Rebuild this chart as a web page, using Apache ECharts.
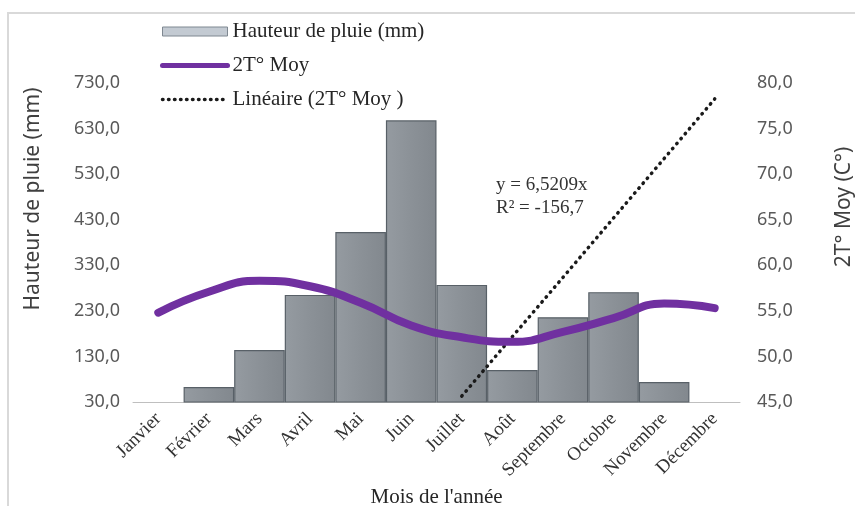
<!DOCTYPE html>
<html>
<head>
<meta charset="utf-8">
<script src="https://cdn.jsdelivr.net/npm/echarts@6/dist/echarts.min.js"></script>
<style>html,body{margin:0;padding:0;background:#fff;}#c{width:855px;height:506px;}</style>
</head>
<body>
<div id="c"></div>
<script>
var months = ['Janvier','Février','Mars','Avril','Mai','Juin','Juillet','Août','Septembre','Octobre','Novembre','Décembre'];
var pluie = [null, 63, 144, 265, 403, 648, 287, 100, 216, 271, 74, null];
var tMoy = [54.8, 57.1, 58.3, 57.7, 55.9, 53.4, 52.1, 51.6, 52.7, 54.2, 55.8, 55.3];
var lineaire = [null, null, null, null, null, null, 45.65, 52.17, 58.67, 65.19, 71.71, 78.25];
var leftTicks = [30, 130, 230, 330, 430, 530, 630, 730];
var rightTicks = [45, 50, 55, 60, 65, 70, 75, 80];
var serieNames = ['Hauteur de pluie (mm)', '2T° Moy', 'Linéaire (2T° Moy )'];
var equation = 'y = 6,5209x\nR² = -156,7';

function fmt(v){ return v.toFixed(1).replace('.', ','); }

var chart = echarts.init(document.getElementById('c'), null, {renderer: 'canvas'});
var sans = '"Noto Sans", "Open Sans", sans-serif';
var serif = '"Liberation Serif", "DejaVu Serif", serif';

chart.setOption({
  animation: false,
  backgroundColor: '#ffffff',
  grid: {left: 133, right: 115, top: 83, bottom: 104, containLabel: false, outerBoundsMode: 'none'},
  legend: {
    orient: 'vertical', left: 160, top: 21, padding: 0, itemWidth: 65, itemHeight: 14, itemGap: 13,
    textStyle: {fontFamily: serif, fontSize: 21, color: '#262626', lineHeight: 20},
    data: [
      {name: serieNames[0], icon: 'path://M0,0H65V9H0Z', itemStyle: {color: '#c3cad2', borderColor: '#7f8891', borderWidth: 1}},
      {name: serieNames[1], itemStyle: {opacity: 0}, lineStyle: {width: 5, color: '#7030a0', cap: 'round'}},
      {name: serieNames[2], itemStyle: {opacity: 0}, lineStyle: {width: 3.5, color: '#1a1a1a', type: [0.5, 5.5], cap: 'round'}}
    ]
  },
  xAxis: {
    type: 'category', data: months, boundaryGap: true,
    axisLine: {show: true, lineStyle: {color: '#bfbfbf', width: 1}},
    axisTick: {show: false},
    axisLabel: {rotate: 45, margin: 14, interval: 0, fontFamily: serif, fontSize: 19, color: '#333333'},
    name: 'Mois de l\'année', nameLocation: 'middle', nameGap: 84,
    nameTextStyle: {fontFamily: serif, fontSize: 21, color: '#262626'}
  },
  yAxis: [
    {
      type: 'value', min: leftTicks[0], max: leftTicks[leftTicks.length - 1], interval: 10,
      axisLine: {show: false}, axisTick: {show: false}, splitLine: {show: false},
      axisLabel: {margin: 13, fontFamily: sans, fontSize: 18, color: '#595959',
        formatter: function(v){ return leftTicks.indexOf(Math.round(v)) >= 0 ? fmt(v) : ''; }}
    },
    {
      type: 'value', min: rightTicks[0], max: rightTicks[rightTicks.length - 1], interval: 5,
      axisLine: {show: false}, axisTick: {show: false}, splitLine: {show: false},
      axisLabel: {margin: 17, fontFamily: sans, fontSize: 18, color: '#595959',
        formatter: function(v){ return rightTicks.indexOf(Math.round(v)) >= 0 ? fmt(v) : ''; }}
    }
  ],
  series: [
    {
      name: serieNames[0], type: 'bar', yAxisIndex: 0, data: pluie,
      barWidth: '100%', barCategoryGap: 0, clip: true,
      itemStyle: {
        color: {type: 'linear', x: 0, y: 0, x2: 1, y2: 0, colorStops: [
          {offset: 0, color: '#959ba1'}, {offset: 0.5, color: '#8b9197'}, {offset: 1, color: '#82888e'}]},
        borderColor: '#586067', borderWidth: 1.2
      },
      z: 2
    },
    {
      name: serieNames[1], type: 'line', yAxisIndex: 1, data: tMoy, smooth: 0.5,
      symbol: 'none', showSymbol: false,
      lineStyle: {color: '#7030a0', width: 8, cap: 'round'},
      itemStyle: {color: '#7030a0'}, z: 4
    },
    {
      name: serieNames[2], type: 'line', yAxisIndex: 1, data: lineaire,
      symbol: 'none', showSymbol: false, clip: true,
      lineStyle: {color: '#1a1a1a', width: 3.5, type: [0.5, 6], cap: 'round'},
      itemStyle: {color: '#1a1a1a'}, z: 3
    }
  ],
  graphic: [
    {type: 'rect', z: -10, shape: {x: 8, y: 13, width: 870, height: 510},
      style: {fill: 'none', stroke: '#d9d9d9', lineWidth: 2}},
    {type: 'text', x: 33, y: 199, rotation: Math.PI / 2,
      style: {text: 'Hauteur de pluie (mm)', align: 'center', verticalAlign: 'middle', font: '21px ' + sans, fill: '#404040'}},
    {type: 'text', x: 844, y: 207, rotation: Math.PI / 2,
      style: {text: '2T° Moy (C°)', align: 'center', verticalAlign: 'middle', font: '21px ' + sans, fill: '#404040'}},
    {type: 'text', x: 496, y: 174,
      style: {text: equation, font: '19px ' + serif, lineHeight: 23, fill: '#333333'}}
  ]
});
</script>
</body>
</html>
